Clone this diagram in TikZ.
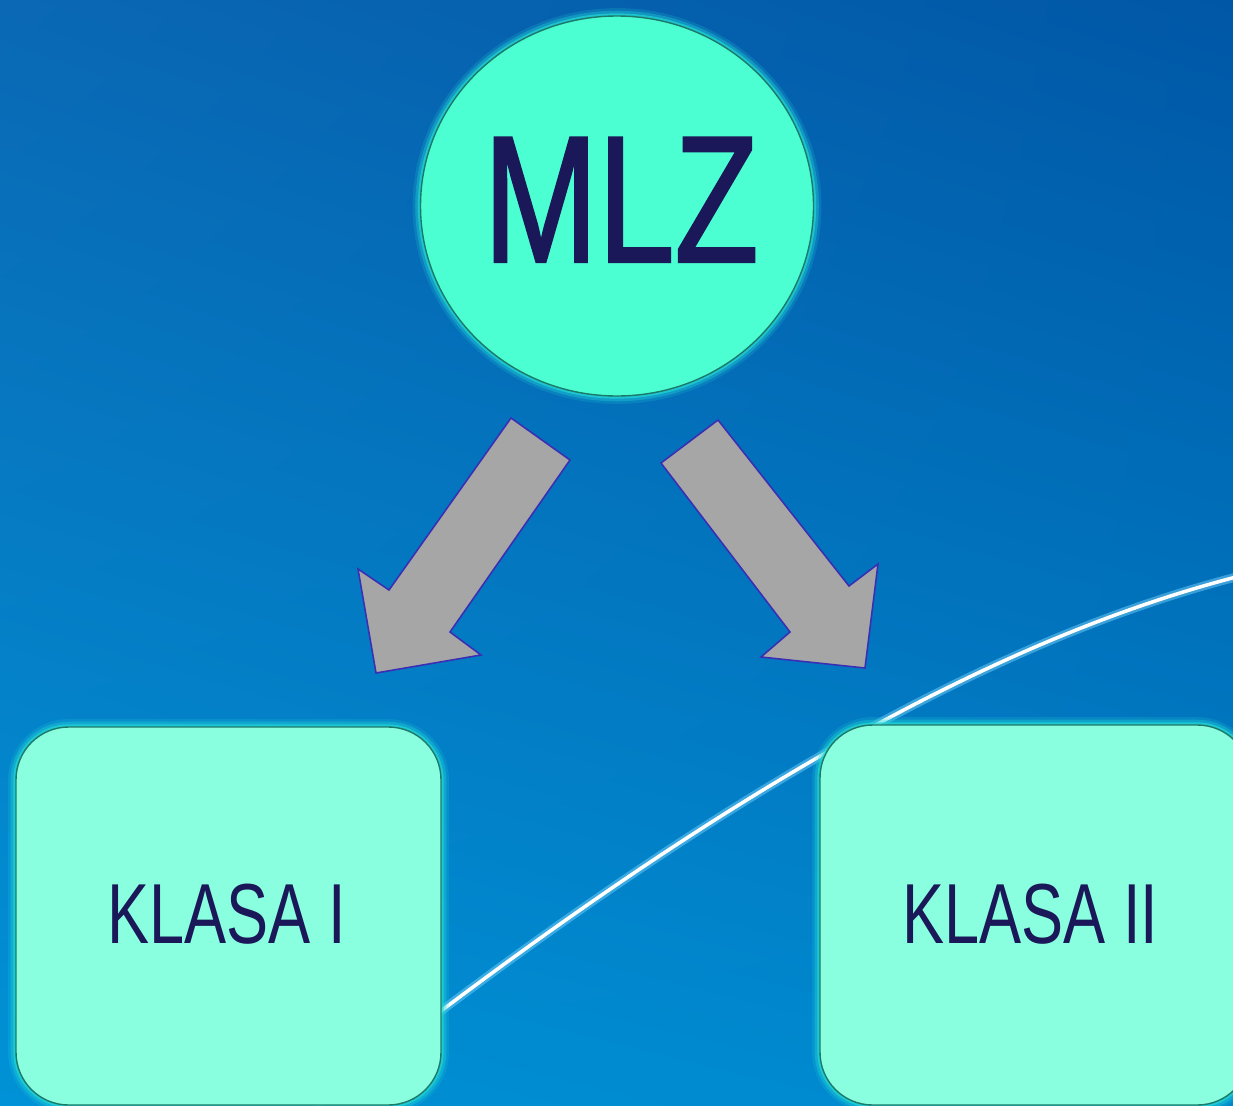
\documentclass[tikz,border=0pt]{standalone}
\usepackage{fontspec}
\newfontfamily\narrowsans[FakeStretch=0.74]{Liberation Sans}
\newfontfamily\narrowbig[FakeStretch=0.76,FakeBold=1.2]{Liberation Sans}
\usetikzlibrary{shapes.geometric,shadings}
\definecolor{bgTL}{HTML}{0A68B4}
\definecolor{bgTR}{HTML}{0057A6}
\definecolor{bgBL}{HTML}{0092D6}
\definecolor{bgBR}{HTML}{0086CC}
\definecolor{circfill}{HTML}{4BFFD2}
\definecolor{boxfill}{HTML}{8AFFDF}
\definecolor{edgeteal}{HTML}{1C7A68}
\definecolor{glowc}{HTML}{22D6D6}
\definecolor{txt}{HTML}{1A1858}
\definecolor{arrowfill}{HTML}{A6A6A6}
\definecolor{arrowedge}{HTML}{3A2FB4}
\definecolor{curveglow}{HTML}{7FD8FF}
\tikzset{
  glowing/.style={
    preaction={draw=glowc, line width=9pt, opacity=0.18},
    preaction={draw=glowc, line width=6pt, opacity=0.35},
    preaction={draw=glowc, line width=3pt, opacity=0.7}},
  bubble/.style={ellipse, glowing, fill=circfill, draw=edgeteal, line width=0.8pt, inner sep=0pt,
    minimum width=393*0.02cm, minimum height=380*0.02cm},
  klasabox/.style={rectangle, rounded corners=30pt, glowing, fill=boxfill, draw=edgeteal, line width=0.8pt, inner sep=0pt},
  bigtext/.style={font=\narrowbig\fontsize{103pt}{103pt}\selectfont, text=txt, inner sep=0pt},
  midtext/.style={font=\narrowsans\fontsize{48.5pt}{48.5pt}\selectfont, text=txt, inner sep=0pt},
  blockarrow/.style={fill=arrowfill, draw=arrowedge, line width=0.9pt, line join=miter}
}
\begin{document}
\begin{tikzpicture}[x=0.02cm, y=-0.02cm]
\useasboundingbox (0,0) rectangle (1233,1105);
\clip (0,0) rectangle (1233,1105);
\shade[upper left=bgTL, upper right=bgTR, lower left=bgBL, lower right=bgBR] (0,0) rectangle (1233,1105);
% white arc
\coordinate (c0) at (300,1120);
\coordinate (c1) at (1240,576);
\draw[curveglow, line width=5pt, opacity=0.45] (c0) .. controls (640,850) and (950,650) .. (c1);
\draw[white, line width=2pt] (c0) .. controls (640,850) and (950,650) .. (c1);
% nodes
\node[bubble] (mlz) at (617,206) {};
\node[bigtext, anchor=base] (mlzt) at (621,262) {MLZ};
\node[klasabox, minimum width=425*0.02cm, minimum height=378*0.02cm] (k1) at (228.5,916) {};
\node[midtext, anchor=base] (k1t) at (226.5,943) {KLASA I};
\node[klasabox, minimum width=430*0.02cm, minimum height=380*0.02cm] (k2) at (1035,915) {};
\node[midtext, anchor=base] (k2t) at (1030.5,943) {KLASA II};
% block arrows
\draw[blockarrow] (511,418) -- (570,460) -- (450,632) -- (481,655) -- (376,673) -- (358,569) -- (389,590) -- cycle;
\draw[blockarrow] (718,420) -- (661,463) -- (790,632) -- (761,657) -- (865,668) -- (878,564) -- (849,586) -- cycle;
\end{tikzpicture}
\end{document}
